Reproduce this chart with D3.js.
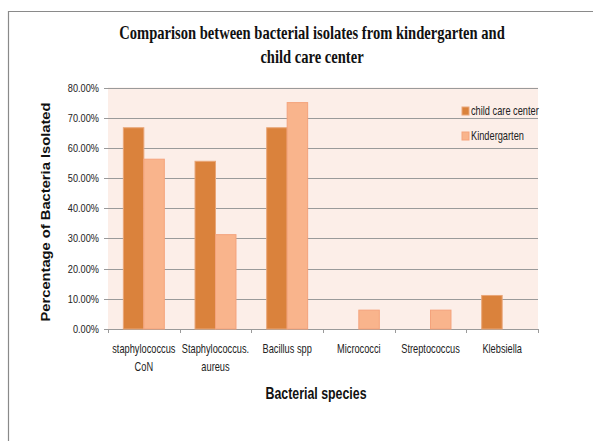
<!DOCTYPE html>
<html><head><meta charset="utf-8">
<script src="https://cdn.jsdelivr.net/npm/d3@7"></script>
<style>body{margin:0;background:#fff}svg{display:block}</style>
</head><body>
<script>
const categories = [["staphylococcus","CoN"],["Staphylococcus.","aureus"],["Bacillus spp"],["Micrococci"],["Streptococcus"],["Klebsiella"]];
const seriesNames = ["child care center","Kindergarten"];
const childCare = [0.6667,0.5556,0.6667,0,0,0.1111];
const kindergarten = [0.5625,0.3125,0.75,0.0625,0.0625,0];
const yTicks = [0,0.1,0.2,0.3,0.4,0.5,0.6,0.7,0.8];
const titleLines = ["Comparison between bacterial isolates from kindergarten and","child care center"];
const colors = ["#DA823C","#F9B48C"];
const strokes = ["#E9A678","#F4A37C"];

const W=593,H=441;
const SANS="Liberation Sans, Arial, sans-serif";
const svg=d3.select("body").append("svg").attr("width",W).attr("height",H);

// condensed text helper
function ctext(parent,x,y,str,opts){
  const g=parent.append("g").attr("transform",`translate(${x},${y}) scale(${opts.sx||0.82},1)`);
  const t=g.append("text").attr("x",0).attr("y",0)
    .attr("text-anchor",opts.anchor||"start").attr("font-family",opts.family||SANS)
    .attr("font-size",opts.size||11.5).attr("font-weight",opts.weight||"normal")
    .attr("fill",opts.fill||"#222").text(str);
  return t;
}

// frame
svg.append("path").attr("d","M8.5,441 V11.5 H593").attr("fill","none").attr("stroke","#8a8a8a").attr("stroke-width",1.2);

const m={l:108,r:538,t:87.5,b:329};
const x=d3.scaleBand().domain(d3.range(categories.length)).range([m.l,m.r]).paddingInner(0).paddingOuter(0);
const y=d3.scaleLinear().domain([0,0.8]).range([m.b,m.t]);
const inner=d3.scaleBand().domain([0,1]).range([0,x.bandwidth()]).paddingInner(0).paddingOuter(0.75);

svg.append("rect").attr("x",m.l).attr("y",m.t).attr("width",m.r-m.l).attr("height",m.b-m.t).attr("fill","#FCEEE8");

// gridlines
svg.append("g").selectAll("line").data(yTicks).join("line")
 .attr("x1",m.l-4).attr("x2",m.r).attr("y1",d=>Math.round(y(d))+0.5).attr("y2",d=>Math.round(y(d))+0.5)
 .attr("stroke","#9a9a9a").attr("stroke-width",1);

// y axis labels
yTicks.forEach(d=>ctext(svg,99,y(d)+4,d3.format(".2%")(d),{anchor:"end",size:11.5,sx:0.8}));

// x ticks
svg.append("g").selectAll("line").data(d3.range(categories.length+1)).join("line")
 .attr("x1",i=>Math.round(m.l+i*x.step())+0.5).attr("x2",i=>Math.round(m.l+i*x.step())+0.5)
 .attr("y1",m.b).attr("y2",m.b+4).attr("stroke","#9a9a9a");

const series=[childCare,kindergarten];
series.forEach((vals,s)=>{
 svg.append("g").selectAll("rect").data(vals).join("rect")
  .attr("x",(d,i)=>x(i)+inner(s)).attr("width",inner.bandwidth())
  .attr("y",d=>y(d)).attr("height",d=>m.b-y(d))
  .attr("fill",colors[s]).attr("stroke",strokes[s]).attr("stroke-width",d=>d>0?1:0);
});

// x labels
categories.forEach((d,i)=>{
  d.forEach((ln,j)=>ctext(svg,x(i)+x.bandwidth()/2,353+j*18,ln,{anchor:"middle",size:12.5,sx:0.74}));
});

// axis titles
ctext(svg,316,399,"Bacterial species",{anchor:"middle",size:16.5,weight:"bold",sx:0.75,fill:"#111"});
svg.append("text").attr("transform","translate(50,212) rotate(-90)").attr("text-anchor","middle")
 .attr("font-family",SANS).attr("font-weight","bold").attr("font-size",13.5).attr("fill","#111")
 .attr("textLength",219).attr("lengthAdjust","spacingAndGlyphs")
 .text("Percentage of Bacteria Isolated");

// title (uniformly condensed)
const tt=svg.append("g").selectAll("text").data(titleLines).join("text")
 .attr("x",0).attr("y",0).attr("text-anchor","middle")
 .attr("font-family","Liberation Serif, serif").attr("font-weight","bold").attr("font-size",18).attr("fill","#111")
 .text(d=>d);
const nat=tt.nodes()[0].getComputedTextLength();
const sx=386/nat;
tt.attr("transform",(d,i)=>`translate(312,${39+i*23.5}) scale(${sx},1)`);

// legend
seriesNames.forEach((d,i)=>{
  svg.append("rect").attr("x",462).attr("y",107+i*25).attr("width",7).attr("height",8)
    .attr("fill",colors[i]).attr("stroke",strokes[i]);
  ctext(svg,471,115+i*25,d,{size:12.5,sx:0.74});
});
</script>
</body></html>
